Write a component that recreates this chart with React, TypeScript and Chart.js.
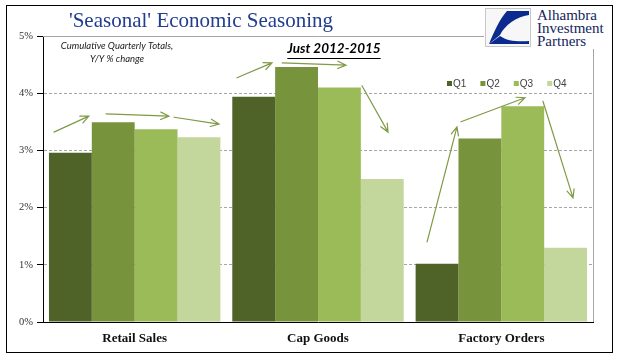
import React, { useEffect, useRef } from 'react';
import { Chart, registerables } from 'chart.js';

Chart.register(...registerables);

// ---- data ----
const categories = ['Retail Sales', 'Cap Goods', 'Factory Orders'];
const seriesNames = ['Q1', 'Q2', 'Q3', 'Q4'];
const q1 = [2.96, 3.94, 1.02];
const q2 = [3.49, 4.46, 3.21];
const q3 = [3.37, 4.10, 3.77];
const q4 = [3.23, 2.50, 1.30];
const seriesColors = ['#4F6228', '#77933C', '#9BBB59', '#C3D69B'];
const yMin = 0;
const yMax = 5;
const yStep = 1;

const titleText = "'Seasonal' Economic Seasoning";
const noteLines = ['Cumulative Quarterly Totals,', 'Y/Y % change'];
const periodNote = 'Just 2012-2015';

// arrows in data space: [categoryIndex offset, value] -> [categoryIndex offset, value]
const arrows: number[][] = [
  [-0.44, 3.32, -0.25, 3.6],
  [-0.156, 3.64, 0.187, 3.6],
  [0.215, 3.58, 0.46, 3.46],
  [0.558, 4.27, 0.749, 4.53],
  [0.804, 4.53, 1.153, 4.49],
  [1.24, 4.13, 1.382, 3.32],
  [1.595, 1.4, 1.758, 3.41],
  [1.78, 3.5, 2.129, 3.92],
  [2.227, 3.86, 2.391, 2.17],
];

const seriesValues = [q1, q2, q3, q4];

export default function App() {
  const ref = useRef<HTMLCanvasElement>(null);

  useEffect(() => {
    document.body.style.margin = '0';
    const canvas = ref.current;
    if (!canvas) return;

    const overlay = {
      id: 'overlay',
      beforeDraw(chart: any) {
        const { ctx, width, height } = chart;
        ctx.save();
        ctx.fillStyle = '#ffffff';
        ctx.fillRect(0, 0, width, height);
        ctx.restore();
      },
      afterDatasetsDraw(chart: any) {
        const { ctx, chartArea, scales } = chart;
        const catW = (chartArea.right - chartArea.left) / categories.length;
        const px = (xf: number) => chartArea.left + (xf + 0.5) * catW;
        const py = (v: number) => scales.y.getPixelForValue(v);
        ctx.save();
        ctx.strokeStyle = '#7F9A45';
        ctx.lineWidth = 1.2;
        ctx.lineCap = 'round';
        for (const a of arrows) {
          const x1 = px(a[0]), y1 = py(a[1]), x2 = px(a[2]), y2 = py(a[3]);
          const ang = Math.atan2(y2 - y1, x2 - x1);
          const hl = 9, ha = 0.42;
          ctx.beginPath();
          ctx.moveTo(x1, y1);
          ctx.lineTo(x2, y2);
          ctx.moveTo(x2 - hl * Math.cos(ang - ha), y2 - hl * Math.sin(ang - ha));
          ctx.lineTo(x2, y2);
          ctx.lineTo(x2 - hl * Math.cos(ang + ha), y2 - hl * Math.sin(ang + ha));
          ctx.stroke();
        }
        ctx.restore();
      },
      afterDraw(chart: any) {
        const { ctx, chartArea } = chart;
        ctx.save();
        // plot frame top/right (gray)
        ctx.strokeStyle = '#a6a6a6';
        ctx.lineWidth = 1;
        ctx.beginPath();
        ctx.moveTo(chartArea.left, chartArea.top + 0.5);
        ctx.lineTo(chartArea.right + 0.5, chartArea.top + 0.5);
        ctx.lineTo(chartArea.right + 0.5, chartArea.bottom);
        ctx.stroke();
        // outer frame
        ctx.strokeStyle = '#000';
        ctx.strokeRect(6.5, 5.5, 606, 347);

        // title
        ctx.fillStyle = '#203D8E';
        ctx.font = "21px 'Liberation Serif'";
        ctx.textAlign = 'center';
        ctx.textBaseline = 'middle';
        ctx.fillText(titleText, 201, 21);

        // note
        ctx.fillStyle = '#1a1a1a';
        ctx.font = "italic 9.5px Lato";
        ctx.fillText(noteLines[0], 117, 46);
        ctx.fillText(noteLines[1], 117, 59);

        // period note
        ctx.font = "italic bold 13.5px Lato";
        ctx.fillStyle = '#000';
        ctx.fillText(periodNote, 334, 49);
        const w = ctx.measureText(periodNote).width;
        ctx.beginPath();
        ctx.moveTo(334 - w / 2, 58.5);
        ctx.lineTo(334 + w / 2, 58.5);
        ctx.strokeStyle = '#000';
        ctx.lineWidth = 1;
        ctx.stroke();

        // legend
        ctx.font = "10px 'Liberation Sans'";
        ctx.textAlign = 'left';
        ctx.textBaseline = 'middle';
        chart.data.datasets.forEach((ds: any, i: number) => {
          const x = 447 + i * 33.4;
          ctx.fillStyle = ds.backgroundColor;
          ctx.fillRect(x, 81, 5, 5);
          ctx.fillStyle = '#404040';
          ctx.fillText(ds.label, x + 6, 84);
        });
        ctx.restore();
      },
    };

    const chart = new Chart(canvas, {
      type: 'bar',
      data: {
        labels: categories,
        datasets: seriesNames.map((name, i) => ({
          label: name,
          data: seriesValues[i],
          backgroundColor: seriesColors[i],
          borderWidth: 0,
          categoryPercentage: 0.935,
          barPercentage: 1,
        })),
      },
      options: {
        responsive: false,
        animation: false,
        devicePixelRatio: 1,
        layout: { padding: { left: 0, top: 36, right: 48, bottom: 0 } },
        plugins: {
          legend: { display: false },
          title: { display: false },
          tooltip: { enabled: false },
        },
        scales: {
          x: {
            grid: { display: false, drawTicks: false },
            border: { display: true, color: '#000', width: 1 },
            ticks: {
              padding: 9,
              color: '#111',
              font: { family: 'Liberation Serif', size: 13, weight: 'bold' },
            },
            afterFit: (s: any) => { s.height = 36; },
          },
          y: {
            min: yMin,
            max: yMax,
            grid: {
              color: (c: any) => (c.tick && (c.tick.value === yMin || c.tick.value === yMax) ? 'rgba(0,0,0,0)' : '#a6a6a6'),
              tickColor: '#000',
              tickLength: 6,
              tickBorderDash: [],
              drawTicks: true,
            },
            border: { display: true, color: '#000', width: 1, dash: [3, 2] },
            ticks: {
              stepSize: yStep,
              padding: 4,
              color: '#333',
              font: { family: 'Liberation Serif', size: 10.5 },
              callback: (v: any) => v + '%',
            },
            afterFit: (s: any) => { s.width = 43; },
          },
        },
      },
      plugins: [overlay],
    });
    return () => chart.destroy();
  }, []);

  return (
    <div style={{ position: 'relative', width: 641, height: 358 }}>
      <canvas ref={ref} width={641} height={358} style={{ display: 'block', width: 641, height: 358 }} />
      <div style={{ position: 'absolute', left: 484, top: 6, width: 126, height: 43, background: '#fff' }}>
        <svg width={46} height={39} viewBox="0 0 46 39" style={{ position: 'absolute', left: 1, top: 2 }}>
          <rect x={0.5} y={0.5} width={45} height={38} fill="#f7f7f7" stroke="#c8c8c8" />
          <path d="M22 3 L44 3 L44 7 C31 9 20 17 15 27 L4 36 C9 24 14 12 22 3 Z" fill="#0B2A8F" />
          <path d="M15 28 C22 33 33 34 44 33 L44 36 L4 36 Z" fill="#0B2A8F" />
        </svg>
        <div style={{ position: 'absolute', left: 53, top: 3, fontFamily: "'Liberation Serif'", fontSize: 15, lineHeight: '13px', color: '#14245e', whiteSpace: 'nowrap' }}>
          <div>Alhambra</div>
          <div>Investment</div>
          <div>Partners</div>
        </div>
      </div>
    </div>
  );
}
